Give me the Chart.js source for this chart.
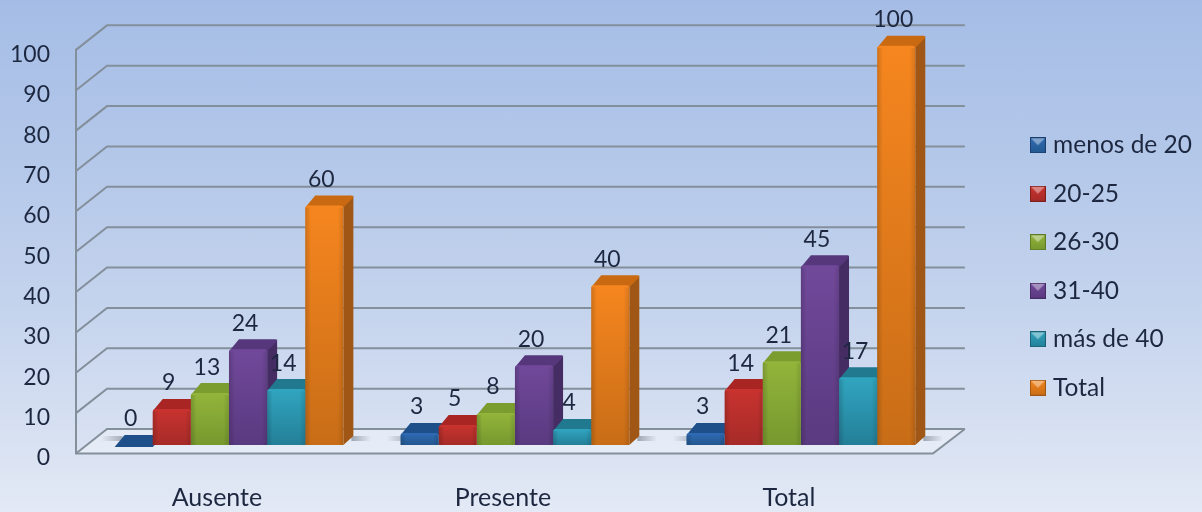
<!DOCTYPE html>
<html>
<head>
<meta charset="utf-8">
<title>Edad por grupo</title>
<script src="https://cdn.jsdelivr.net/npm/chart.js@4"></script>
<style>
    html, body { margin: 0; padding: 0; }
    body {
        width: 1202px;
        height: 512px;
        overflow: hidden;
        background: linear-gradient(180deg, #a5bde6 0%, #b3c7e9 30%, #c8d6ee 65%, #e3e9f5 100%);
    }
    canvas { display: block; }
</style>
</head>
<body>
<canvas id="chart" width="1202" height="512"></canvas>
<script>
// Chart data
const categories = ['Ausente', 'Presente', 'Total'];
const seriesNames = ['menos de 20', '20-25', '26-30', '31-40', 'más de 40', 'Total'];
const menosDe20 = [0, 3, 3];
const de20a25 = [9, 5, 14];
const de26a30 = [13, 8, 21];
const de31a40 = [24, 20, 45];
const masDe40 = [14, 4, 17];
const totals = [60, 40, 100];
const seriesValues = [menosDe20, de20a25, de26a30, de31a40, masDe40, totals];
const axisTicks = [0, 10, 20, 30, 40, 50, 60, 70, 80, 90, 100];

// light / dark front, top face, side face
const palette = [
    { light: '#2f6bb5', dark: '#24588f', top: '#1f4f8a', side: '#1a3f6e' },
    { light: '#c9332f', dark: '#a62b28', top: '#a82523', side: '#7d1f1c' },
    { light: '#93b53b', dark: '#76982e', top: '#7b9c2f', side: '#5e7a24' },
    { light: '#71499b', dark: '#5a3a80', top: '#56377b', side: '#452c63' },
    { light: '#31a5c0', dark: '#247f98', top: '#20798f', side: '#1a6174' },
    { light: '#f6861f', dark: '#c86d17', top: '#c96a12', side: '#a05614' }
];

const FONT = 'Lato, Carlito, sans-serif';
const TEXT_COLOR = '#1d2840';
const GRID_COLOR = '#848f9c';
const DEPTH_X = 31;     // wall depth
const DEPTH_Y = 24.5;
const BAR_DX = 10;      // bar depth
const BAR_DY = 9;

function makeSwatch(colors) {
    const c = document.createElement('canvas');
    c.width = 16;
    c.height = 16;
    const g = c.getContext('2d');
    const grad = g.createLinearGradient(0, 0, 0, 16);
    grad.addColorStop(0, colors.light);
    grad.addColorStop(1, colors.dark);
    g.fillStyle = grad;
    g.fillRect(0, 0, 16, 16);
    g.fillStyle = 'rgba(255,255,255,0.4)';
    g.beginPath();
    g.moveTo(1, 1);
    g.lineTo(15, 1);
    g.lineTo(8, 8);
    g.closePath();
    g.fill();
    g.strokeStyle = colors.side;
    g.strokeRect(0.5, 0.5, 15, 15);
    return c;
}
const swatches = palette.map(makeSwatch);

function polygon(ctx, points, fill) {
    ctx.beginPath();
    points.forEach((p, i) => (i ? ctx.lineTo(p[0], p[1]) : ctx.moveTo(p[0], p[1])));
    ctx.closePath();
    ctx.fillStyle = fill;
    ctx.fill();
}

function line(ctx, points) {
    ctx.beginPath();
    points.forEach((p, i) => (i ? ctx.lineTo(p[0], p[1]) : ctx.moveTo(p[0], p[1])));
    ctx.stroke();
}

// Walls, floor, shadows and the top and side faces of the bars go behind the front faces
const wallsPlugin = {
    id: 'walls',
    beforeDatasetsDraw(chart) {
        const ctx = chart.ctx;
        const yScale = chart.scales.y;
        const left = chart.chartArea.left - 10;
        const right = chart.chartArea.right - 11;
        const y0 = yScale.getPixelForValue(0);
        const y100 = yScale.getPixelForValue(100);
        ctx.save();

        polygon(ctx, [[left, y0], [right, y0], [right + DEPTH_X + 1, y0 - DEPTH_Y], [left + DEPTH_X, y0 - DEPTH_Y]], 'rgba(240,244,250,0.55)');

        ctx.strokeStyle = GRID_COLOR;
        ctx.lineWidth = 2;
        axisTicks.forEach(v => {
            const y = yScale.getPixelForValue(v);
            line(ctx, [[left, y], [left + DEPTH_X, y - DEPTH_Y], [right + DEPTH_X + 1, y - DEPTH_Y]]);
        });
        line(ctx, [[left, y100 - 1], [left, y0], [right, y0], [right + DEPTH_X + 1, y0 - DEPTH_Y]]);

        // soft shadow on both ends of each bar group
        const first = chart.getDatasetMeta(0).data;
        const last = chart.getDatasetMeta(seriesNames.length - 1).data;
        first.forEach((bar, i) => {
            const x = bar.x - bar.width / 2;
            const a = ctx.createLinearGradient(x - 14, 0, x + 8, 0);
            a.addColorStop(0, 'rgba(70,80,95,0)');
            a.addColorStop(1, 'rgba(70,80,95,0.4)');
            ctx.fillStyle = a;
            ctx.fillRect(x - 14, bar.base - 9, 22, 5);

            const end = last[i];
            const x2 = end.x + end.width / 2 + BAR_DX;
            const b = ctx.createLinearGradient(x2 - 2, 0, x2 + 18, 0);
            b.addColorStop(0, 'rgba(70,80,95,0.45)');
            b.addColorStop(1, 'rgba(70,80,95,0)');
            ctx.fillStyle = b;
            ctx.fillRect(x2 - 2, end.base - 9, 20, 5);
        });

        // left to right so each bar covers the side of the one before it
        seriesNames.forEach((name, i) => {
            const colors = palette[i];
            chart.getDatasetMeta(i).data.forEach(bar => {
                const x0 = bar.x - bar.width / 2;
                const x1 = bar.x + bar.width / 2;
                const y = bar.y;
                const back = y - BAR_DY - 1;
                polygon(ctx, [[x1, y], [x1 + BAR_DX, back], [x1 + BAR_DX, bar.base - BAR_DY], [x1, bar.base]], colors.side);
                polygon(ctx, [[x0, y + 2], [x0 + BAR_DX, back], [x1 + BAR_DX - 1, back], [x1 + BAR_DX, back + 2], [x1, y + 2]], colors.top);
            });
        });
        ctx.restore();
    }
};

// Darker edges on the front faces
const sheenPlugin = {
    id: 'sheen',
    afterDatasetDraw(chart, args) {
        const ctx = chart.ctx;
        ctx.save();
        args.meta.data.forEach(bar => {
            if (bar.base - bar.y <= 3) return;
            const x0 = bar.x - bar.width / 2;
            const x1 = bar.x + bar.width / 2;
            const sheen = ctx.createLinearGradient(x0, 0, x1, 0);
            sheen.addColorStop(0, 'rgba(0,0,0,0.16)');
            sheen.addColorStop(0.15, 'rgba(0,0,0,0)');
            sheen.addColorStop(0.85, 'rgba(0,0,0,0)');
            sheen.addColorStop(1, 'rgba(0,0,0,0.12)');
            ctx.fillStyle = sheen;
            ctx.fillRect(x0, bar.y + 2, x1 - x0, bar.base - bar.y - 2);
        });
        ctx.restore();
    }
};

// Value labels above the bars
const valueLabelsPlugin = {
    id: 'valueLabels',
    afterDatasetsDraw(chart) {
        const ctx = chart.ctx;
        ctx.save();
        ctx.font = '23px ' + FONT;
        ctx.fillStyle = TEXT_COLOR;
        ctx.textAlign = 'center';
        ctx.textBaseline = 'middle';
        seriesValues.forEach((values, i) => {
            chart.getDatasetMeta(i).data.forEach((bar, j) => {
                ctx.fillText(values[j], bar.x - 3, bar.y - 26);
            });
        });
        ctx.restore();
    }
};

function frontFill(i) {
    return context => {
        if (context.type !== 'data') return palette[i].light;
        const scale = context.chart.scales.bars;
        const top = scale.getPixelForValue(context.raw);
        const base = scale.getPixelForValue(0);
        // scale has no size yet on the first pass
        if (!isFinite(top) || !isFinite(base) || base - top < 1) return palette[i].dark;
        const grad = context.chart.ctx.createLinearGradient(0, top, 0, base);
        grad.addColorStop(0, palette[i].light);
        grad.addColorStop(1, palette[i].dark);
        return grad;
    };
}

new Chart(document.getElementById('chart'), {
    type: 'bar',
    data: {
        labels: categories,
        datasets: seriesNames.map((name, i) => ({
            label: name,
            data: seriesValues[i],
            yAxisID: 'bars',
            backgroundColor: frontFill(i),
            borderWidth: 0,
            borderRadius: { topLeft: 3, topRight: 3, bottomLeft: 0, bottomRight: 0 },
            categoryPercentage: 0.8,
            barPercentage: 1
        }))
    },
    options: {
        responsive: false,
        animation: false,
        layout: { padding: { top: 21, bottom: 0, right: 0, left: 0 } },
        plugins: {
            title: { display: false },
            tooltip: { enabled: false },
            legend: {
                position: 'right',
                labels: {
                    color: TEXT_COLOR,
                    font: { family: FONT, size: 24.5 },
                    boxWidth: 6,
                    boxHeight: 16,
                    padding: 24,
                    usePointStyle: true,
                    generateLabels(chart) {
                        const items = Chart.defaults.plugins.legend.labels.generateLabels(chart);
                        items.forEach(item => { item.pointStyle = swatches[item.datasetIndex]; });
                        return items;
                    }
                }
            }
        },
        scales: {
            x: {
                grid: { display: false },
                border: { display: false },
                ticks: {
                    color: TEXT_COLOR,
                    font: { family: FONT, size: 25 },
                    padding: 21,
                    labelOffset: -12,
                    maxRotation: 0
                },
                afterFit(scale) { scale.height = 58.5; }
            },
            y: {
                position: 'left',
                min: 0,
                max: 102,
                grid: { display: false },
                border: { display: false },
                afterBuildTicks(scale) { scale.ticks = axisTicks.map(value => ({ value })); },
                ticks: {
                    color: TEXT_COLOR,
                    font: { family: FONT, size: 23 },
                    padding: 28,
                    labelOffset: 4.5
                },
                afterFit(scale) { scale.width = 86; }
            },
            // bars sit a little behind the front of the walls, so they get their own scale
            bars: {
                position: 'right',
                min: -2.13,
                max: 101,
                grid: { display: false },
                border: { display: false },
                ticks: { display: false },
                afterFit(scale) { scale.width = 67; }
            }
        }
    },
    plugins: [wallsPlugin, sheenPlugin, valueLabelsPlugin]
});
</script>
</body>
</html>
